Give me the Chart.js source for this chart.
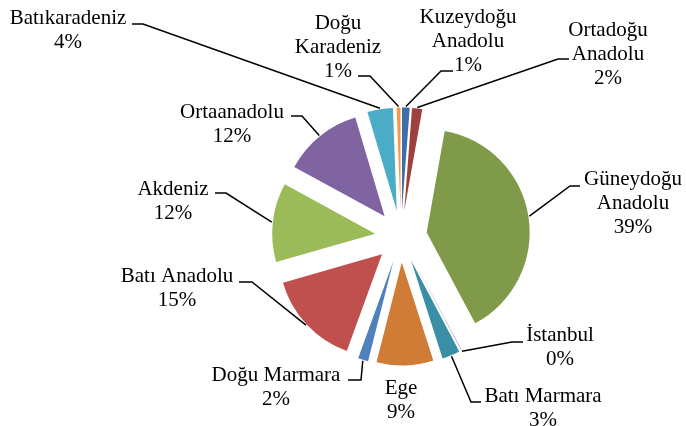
<!DOCTYPE html>
<html>
<head>
<meta charset="utf-8">
<script src="https://cdn.jsdelivr.net/npm/chart.js@4.4.0/dist/chart.umd.min.js"></script>
<style>
  html, body { margin: 0; padding: 0; background: #fff; }
  #wrap { width: 686px; height: 426px; }
  #fontyukle { font-family: "Liberation Serif"; position: absolute; left: -999px; top: 0; }
</style>
</head>
<body>
<div id="fontyukle">Güneydoğu İstanbul 39%</div>
<div id="wrap"><canvas id="pieBolgeler"></canvas></div>
<script>
// bolgeler, saat yonunde tepeden baslayarak
const bolgeler = [
  ['Kuzeydoğu', 'Anadolu'],
  ['Ortadoğu', 'Anadolu'],
  ['Güneydoğu', 'Anadolu'],
  ['İstanbul'],
  ['Batı Marmara'],
  ['Ege'],
  ['Doğu Marmara'],
  ['Batı Anadolu'],
  ['Akdeniz'],
  ['Ortaanadolu'],
  ['Batıkaradeniz'],
  ['Doğu', 'Karadeniz']
];
const paylar = [1.2, 1.6, 39.4, 0.05, 2.8, 8.9, 1.6, 15.0, 12.4, 12.45, 4.0, 0.6];
const renkler = ['#3F6FA8', '#A0403D', '#7F9B49', '#664E83', '#3A8EA5', '#D07C36',
                 '#4F81BD', '#C0504D', '#9BBB59', '#8064A2', '#4BACC6', '#F79646'];

// etiket yerlesimi: [metin merkez x, ilk satir y, cizgi metin ucu x, dirsek x, cizgi y]
const etiketYer = [
  [468, 17, 453, 441, 71],
  [608, 30, 569, 558, 59],
  [633, 179, 580, 570, 186],
  [560, 335, 523, 512, 342],
  [543, 396, 481, 471, 402],
  [401, 388, null, null, null],
  [276, 375, 348, 361, 380],
  [177, 276, 239, 252, 282],
  [173, 189, 215, 226, 193],
  [232, 112, 291, 302, 116],
  [68, 18, 132, 143, 24],
  [338, 23, 358, 370, 76]
];
const patlama = 26;
const satirAra = 24;
const yazi = '21px "Liberation Serif", "Times New Roman", serif';

const patlatPlugin = {
  id: 'patlat',
  beforeDatasetDraw(chart, args) {
    const ctx = chart.ctx;
    args.meta.data.forEach(el => {
      const orta = (el.startAngle + el.endAngle) / 2;
      ctx.save();
      ctx.translate(Math.cos(orta) * patlama, Math.sin(orta) * patlama);
      el.draw(ctx, chart.chartArea);
      ctx.restore();
    });
    return false;
  },
  afterDatasetsDraw(chart) {
    const ctx = chart.ctx;
    const meta = chart.getDatasetMeta(0);
    const toplam = paylar.reduce((a, b) => a + b, 0);
    ctx.save();
    ctx.font = yazi;
    ctx.fillStyle = '#000';
    ctx.textAlign = 'center';
    ctx.textBaseline = 'middle';
    ctx.strokeStyle = '#000';
    ctx.lineWidth = 1.5;
    meta.data.forEach((el, i) => {
      const [tx, ty, lx1, lx2, ly] = etiketYer[i];
      const satirlar = bolgeler[i].concat([Math.round(paylar[i] / toplam * 100) + '%']);
      satirlar.forEach((s, k) => ctx.fillText(s, tx, ty + k * satirAra));
      if (lx1 === null) return;
      const orta = (el.startAngle + el.endAngle) / 2;
      const r = el.outerRadius + patlama + 1;
      const px = el.x + Math.cos(orta) * r;
      const py = el.y + Math.sin(orta) * r;
      ctx.beginPath();
      ctx.moveTo(lx1, ly);
      ctx.lineTo(lx2, ly);
      ctx.lineTo(px, py);
      ctx.stroke();
    });
    ctx.restore();
  }
};

function ciz() {
  new Chart(document.getElementById('pieBolgeler'), {
    type: 'pie',
    data: {
      labels: bolgeler,
      datasets: [{
        data: paylar,
        backgroundColor: renkler,
        borderWidth: 0,
        hoverOffset: 0,
        offset: 0
      }]
    },
    options: {
      responsive: true,
      maintainAspectRatio: false,
      animation: false,
      radius: 103,
      layout: { padding: { left: 116, top: 47, right: 0, bottom: 0 } },
      plugins: {
        legend: { display: false },
        tooltip: { enabled: false }
      }
    },
    plugins: [patlatPlugin]
  });
}

document.fonts.load(yazi, 'Güneydoğu').then(ciz, ciz);
</script>
</body>
</html>
